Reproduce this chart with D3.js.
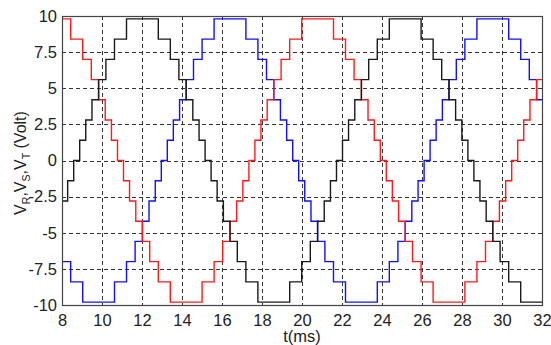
<!DOCTYPE html>
<html><head><meta charset="utf-8">
<script src="https://cdn.jsdelivr.net/npm/d3@7"></script>
<style>body{margin:0;background:#fff;} svg{display:block;}</style>
</head><body>
<svg id="c" width="551" height="345"></svg>
<script>
const xTicks = [8,10,12,14,16,18,20,22,24,26,28,30,32];
const yTicks = [-10,-7.5,-5,-2.5,0,2.5,5,7.5,10];
const yTickLabels = ["-10","-7.5","-5","-2.5","0","2.5","5","7.5","10"];

// step change times (ms) and new level (V) for each phase
const redT = [8, 8.435, 9.036, 9.465, 9.830, 10.161, 10.473, 10.775, 11.075, 11.377, 11.689, 12.020, 12.385, 12.814, 13.415,
  15.005, 15.606, 16.035, 16.400, 16.731, 17.043, 17.345, 17.645, 17.947, 18.259, 18.590, 18.955, 19.384, 19.985,
  21.575, 22.176, 22.605, 22.970, 23.301, 23.613, 23.915, 24.215, 24.517, 24.829, 25.160, 25.525, 25.954, 26.555,
  28.145, 28.746, 29.175, 29.540, 29.871, 30.183, 30.485, 30.785, 31.087, 31.399, 31.730];
const redV = [9.8, 8.4, 7.0, 5.6, 4.2, 2.8, 1.4, 0, -1.4, -2.8, -4.2, -5.6, -7.0, -8.4, -9.8,
  -8.4, -7.0, -5.6, -4.2, -2.8, -1.4, 0, 1.4, 2.8, 4.2, 5.6, 7.0, 8.4, 9.8,
  8.4, 7.0, 5.6, 4.2, 2.8, 1.4, 0, -1.4, -2.8, -4.2, -5.6, -7.0, -8.4, -9.8,
  -8.4, -7.0, -5.6, -4.2, -2.8, -1.4, 0, 1.4, 2.8, 4.2, 5.6];

const blueT = [8, 8.434, 9.035, 10.625, 11.226, 11.655, 12.020, 12.351, 12.663, 12.965, 13.265, 13.567, 13.879, 14.210, 14.575, 15.004, 15.605,
  17.195, 17.796, 18.225, 18.590, 18.921, 19.233, 19.535, 19.835, 20.137, 20.449, 20.780, 21.145, 21.574, 22.175,
  23.765, 24.366, 24.795, 25.160, 25.491, 25.803, 26.105, 26.405, 26.707, 27.019, 27.350, 27.715, 28.144, 28.745,
  30.335, 30.936, 31.365, 31.730];
const blueV = [-7.0, -8.4, -9.8, -8.4, -7.0, -5.6, -4.2, -2.8, -1.4, 0, 1.4, 2.8, 4.2, 5.6, 7.0, 8.4, 9.8,
  8.4, 7.0, 5.6, 4.2, 2.8, 1.4, 0, -1.4, -2.8, -4.2, -5.6, -7.0, -8.4, -9.8,
  -8.4, -7.0, -5.6, -4.2, -2.8, -1.4, 0, 1.4, 2.8, 4.2, 5.6, 7.0, 8.4, 9.8,
  8.4, 7.0, 5.6, 4.2];

const blackT = [8, 8.283, 8.585, 8.885, 9.187, 9.499, 9.830, 10.195, 10.624, 11.225,
  12.815, 13.416, 13.845, 14.210, 14.541, 14.853, 15.155, 15.455, 15.757, 16.069, 16.400, 16.765, 17.194, 17.795,
  19.385, 19.986, 20.415, 20.780, 21.111, 21.423, 21.725, 22.025, 22.327, 22.639, 22.970, 23.335, 23.764, 24.365,
  25.955, 26.556, 26.985, 27.350, 27.681, 27.993, 28.295, 28.595, 28.897, 29.209, 29.540, 29.905, 30.334, 30.935];
const blackV = [-2.8, -1.4, 0, 1.4, 2.8, 4.2, 5.6, 7.0, 8.4, 9.8,
  8.4, 7.0, 5.6, 4.2, 2.8, 1.4, 0, -1.4, -2.8, -4.2, -5.6, -7.0, -8.4, -9.8,
  -8.4, -7.0, -5.6, -4.2, -2.8, -1.4, 0, 1.4, 2.8, 4.2, 5.6, 7.0, 8.4, 9.8,
  8.4, 7.0, 5.6, 4.2, 2.8, 1.4, 0, -1.4, -2.8, -4.2, -5.6, -7.0, -8.4, -9.8];

const series = [
  {name:"VS", t: blueT, v: blueV, color:"#1010ff"},
  {name:"VR", t: redT, v: redV, color:"#ff1a1a"},
  {name:"VT", t: blackT, v: blackV, color:"#1a1a1a"}
];

const L=62, R=542, T=16, B=305;
const svg = d3.select("#c");
const x = d3.scaleLinear().domain([8,32]).range([L,R]);
const y = d3.scaleLinear().domain([-10,10]).range([B,T]);
const font = "'Liberation Sans', Arial, sans-serif";

// grid
const grid = svg.append("g").attr("stroke","#333").attr("stroke-width",1).attr("stroke-dasharray","4,3");
grid.selectAll("line.v").data(xTicks.slice(1,-1)).enter().append("line")
  .attr("x1",d=>Math.round(x(d))+0.5).attr("x2",d=>Math.round(x(d))+0.5).attr("y1",T).attr("y2",B);
grid.selectAll("line.h").data(yTicks.slice(1,-1)).enter().append("line")
  .attr("y1",d=>Math.round(y(d))+0.5).attr("y2",d=>Math.round(y(d))+0.5).attr("x1",L).attr("x2",R);

// series
const line = d3.line().x(d=>x(d[0])).y(d=>y(d[1])).curve(d3.curveStepAfter);
series.forEach(s=>{
  const pts = s.t.map((t,i)=>[t,s.v[i]]);
  pts.push([32, s.v[s.v.length-1]]);
  svg.append("path").datum(pts).attr("d",line).attr("fill","none")
    .attr("stroke",s.color).attr("stroke-width",1.4);
});

// box
svg.append("rect").attr("x",L+0.5).attr("y",T+0.5).attr("width",R-L).attr("height",B-T)
  .attr("fill","none").attr("stroke","#444").attr("stroke-width",1.2);

// axes labels
const xAxis = d3.axisBottom(x).tickValues(xTicks).tickSize(0).tickPadding(9).tickFormat(d=>String(d));
const gx = svg.append("g").attr("transform",`translate(0,${B})`).call(xAxis);
gx.select(".domain").remove();
gx.selectAll("text").attr("font-family",font).attr("font-size",16.5).attr("fill","#222");

const yAxis = d3.axisLeft(y).tickValues(yTicks).tickSize(0).tickPadding(5).tickFormat((d,i)=>yTickLabels[i]);
const gy = svg.append("g").attr("transform",`translate(${L},0)`).call(yAxis);
gy.select(".domain").remove();
gy.selectAll("text").attr("font-family",font).attr("font-size",16.5).attr("fill","#222");

svg.append("text").attr("x",(L+R)/2).attr("y",342).attr("text-anchor","middle")
  .attr("font-family",font).attr("font-size",16.5).attr("fill","#222").text("t(ms)");

const yl = svg.append("text").attr("transform","translate(26,163) rotate(-90)").attr("text-anchor","middle")
  .attr("font-family",font).attr("font-size",16).attr("fill","#222");
[["V",""],["R","sub"],[",",""],["V",""],["S","sub"],[",",""],["V",""],["T","sub"],[" (Volt)",""]].forEach(([tx,k],i,arr)=>{
  const ts = yl.append("tspan").text(tx);
  if(k==="sub") ts.attr("font-size",10.5).attr("dy",4);
  else if(i>0 && arr[i-1][1]==="sub") ts.attr("dy",-4);
});
</script>
</body></html>
